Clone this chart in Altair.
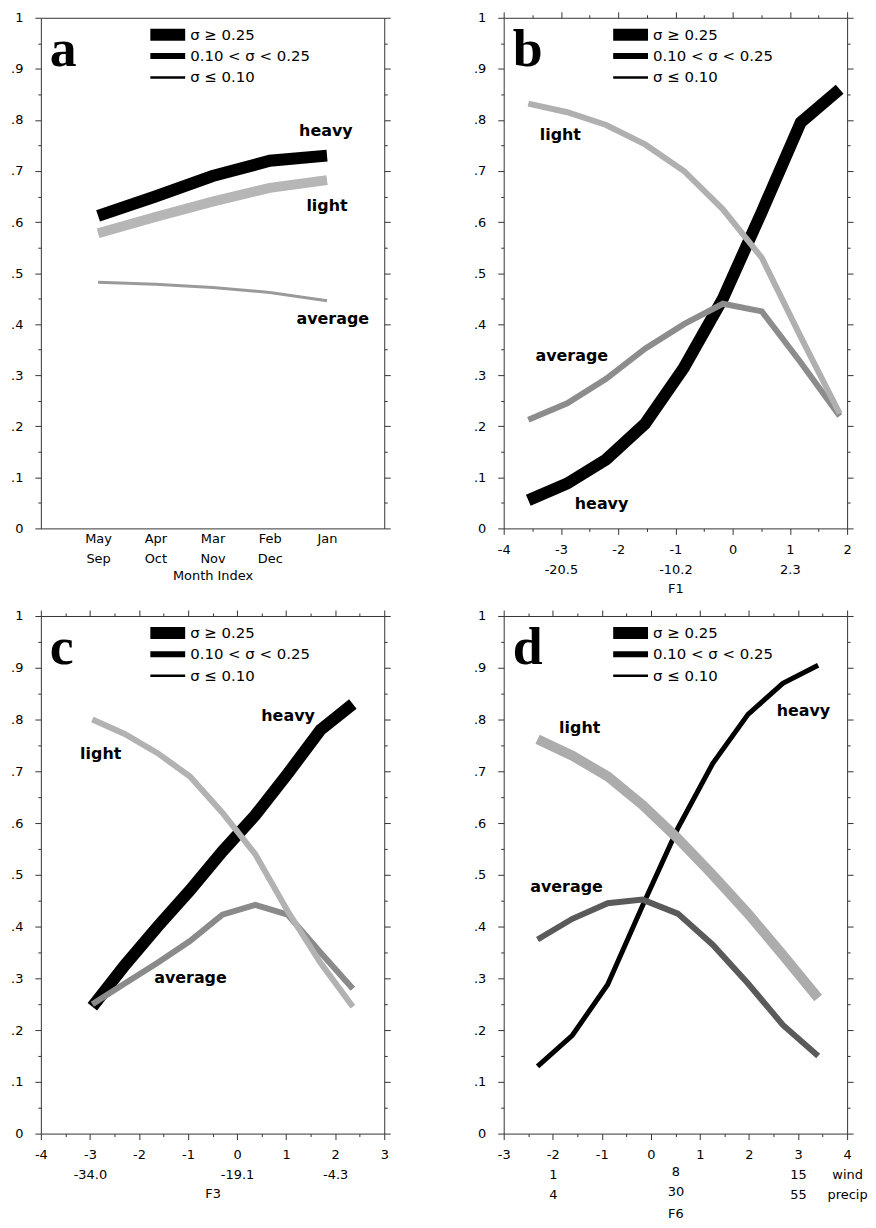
import altair as alt
import pandas as pd

FONT = "DejaVu Sans"

# ---------------- data ----------------
SERIES = ["heavy", "average", "light"]
LEGEND_LABELS = ["σ ≥ 0.25", "0.10 < σ < 0.25", "σ ≤ 0.10"]
Y_TICKS = [round(i * 0.05, 2) for i in range(21)]

# panel a
A_X = [1, 2, 3, 4, 5]
A_MONTHS_1 = ["May", "Apr", "Mar", "Feb", "Jan"]
A_MONTHS_2 = ["Sep", "Oct", "Nov", "Dec", ""]
A_HEAVY = [0.612, 0.650, 0.690, 0.720, 0.730]
A_AVERAGE = [0.482, 0.478, 0.472, 0.462, 0.446]
A_LIGHT = [0.578, 0.610, 0.640, 0.667, 0.682]

# panel b
B_X = [-3.57, -2.89, -2.21, -1.53, -0.85, -0.17, 0.51, 1.19, 1.87]
B_HEAVY = [0.055, 0.088, 0.135, 0.205, 0.315, 0.450, 0.620, 0.795, 0.860]
B_AVERAGE = [0.213, 0.245, 0.293, 0.352, 0.400, 0.440, 0.425, 0.325, 0.220]
B_LIGHT = [0.832, 0.815, 0.790, 0.752, 0.700, 0.625, 0.530, 0.375, 0.225]
B_SUB_VALUES = [-3, -1, 1]
B_SUB_LABELS = ["-20.5", "-10.2", "2.3"]

# panel c
C_X = [-2.95, -2.29, -1.62, -0.96, -0.30, 0.37, 1.03, 1.70, 2.36]
C_HEAVY = [0.245, 0.325, 0.400, 0.470, 0.545, 0.615, 0.695, 0.780, 0.830]
C_AVERAGE = [0.250, 0.290, 0.330, 0.372, 0.423, 0.442, 0.423, 0.350, 0.280]
C_LIGHT = [0.800, 0.772, 0.735, 0.690, 0.620, 0.540, 0.430, 0.330, 0.245]
C_SUB_VALUES = [-3, 0, 2]
C_SUB_LABELS = ["-34.0", "-19.1", "-4.3"]

# panel d
D_X = [-2.31, -1.60, -0.88, -0.17, 0.55, 1.26, 1.98, 2.69, 3.41]
D_HEAVY = [0.130, 0.190, 0.288, 0.440, 0.590, 0.715, 0.810, 0.870, 0.905]
D_AVERAGE = [0.375, 0.415, 0.445, 0.452, 0.425, 0.365, 0.290, 0.210, 0.150]
D_LIGHT = [0.762, 0.730, 0.690, 0.635, 0.570, 0.500, 0.425, 0.345, 0.262]
D_SUB_VALUES = [-2, 0.5, 3, 4]
D_WIND_LABELS = ["1", "8", "15", "wind"]
D_PRECIP_LABELS = ["4", "30", "55", "precip"]

# annotation anchors (data coordinates) for heavy, average, light
A_LABEL_X, A_LABEL_Y = [4.98, 5.10, 5.00], [0.778, 0.410, 0.632]
B_LABEL_X, B_LABEL_Y = [-2.29, -2.81, -3.01], [0.048, 0.338, 0.771]
C_LABEL_X, C_LABEL_Y = [1.04, -0.95, -2.78], [0.807, 0.300, 0.733]
D_LABEL_X, D_LABEL_Y = [3.11, -1.72, -1.45], [0.817, 0.476, 0.783]

# ---------------- styles ----------------
STYLE_A = {"heavy": ("#000000", 12), "average": ("#9a9a9a", 3), "light": ("#b6b6b6", 10)}
STYLE_B = {"heavy": ("#000000", 12), "average": ("#8c8c8c", 6), "light": ("#b0b0b0", 6)}
STYLE_C = {"heavy": ("#000000", 12), "average": ("#8a8a8a", 6), "light": ("#b2b2b2", 6)}
STYLE_D = {"heavy": ("#000000", 5), "average": ("#5a5a5a", 6), "light": ("#acacac", 10)}
LEGEND_WIDTHS = [12, 6, 2.5]

W = 345
H_TOP, H_BOTTOM = 513, 520
TICK_COLOR = "#333333"

Y_MINOR = "abs(datum.value*10 - round(datum.value*10)) > 0.25"
X_MINOR = "datum.value != round(datum.value)"


def cond_tick(test, minor, major):
    return {"condition": {"test": test, "value": minor}, "value": major}


def y_axis(orient, labels):
    expr = (Y_MINOR + " ? '' : (datum.value > 0.999 ? '1' : datum.value < 0.001 ? '0' : "
            "'.' + round(datum.value*10))")
    return alt.Axis(orient=orient, values=Y_TICKS, labels=labels, labelExpr=expr,
                    tickSize=cond_tick(Y_MINOR, 3, 6), tickColor=TICK_COLOR,
                    labelFont=FONT, labelFontSize=13, labelColor="black",
                    labelPadding=12, labelOverlap=False, labelFlush=False,
                    domain=False, grid=False, title=None)


def num_str(v):
    return ("-" if v < 0 else "") + str(abs(int(v))) if float(v).is_integer() else ""


def x_label_expr(sub_values, rows):
    expr = ("datum.value == round(datum.value) ? "
            "(datum.value < 0 ? '-' + abs(datum.value) : '' + datum.value) : ''")
    for i in reversed(range(len(sub_values))):
        v = sub_values[i]
        lines = [num_str(v)] + [r[i] for r in rows]
        arr = "[" + ",".join("'" + s + "'" for s in lines) + "]"
        expr = "datum.value == " + str(v) + " ? " + arr + " : (" + expr + ")"
    return expr


def x_axis_bottom(ticks, sub_values, rows, title):
    return alt.Axis(orient="bottom", values=ticks, labelExpr=x_label_expr(sub_values, rows),
                    tickSize=cond_tick(X_MINOR, 3, 6), tickColor=TICK_COLOR,
                    labelFont=FONT, labelFontSize=13, labelColor="black",
                    labelPadding=9, labelLineHeight=20, labelOverlap=False, labelFlush=False,
                    domain=False, grid=False, title=title, titleFont=FONT,
                    titleFontSize=13, titleFontWeight="normal", titlePadding=6)


def x_axis_top(ticks):
    return alt.Axis(orient="top", values=ticks, labels=False,
                    tickSize=cond_tick(X_MINOR, 3, 6), tickColor=TICK_COLOR,
                    domain=False, grid=False, title=None)


def panel(letter, xs, series_vals, style, x_domain, xb, xt, lab_x, lab_y, height):
    layers = []
    xscale = alt.Scale(domain=x_domain, nice=False, zero=False)
    yscale = alt.Scale(domain=[0, 1], nice=False, zero=False)
    for i, name in enumerate(SERIES):
        df = pd.DataFrame({"x": xs, "y": series_vals[i]})
        color, width = style[name]
        if i == 0:
            xa, ya = xb, y_axis("left", True)
        elif i == 1:
            xa, ya = xt, y_axis("right", False)
        else:
            xa, ya = None, None
        layers.append(
            alt.Chart(df).mark_line(color=color, strokeWidth=width, strokeCap="butt",
                                    strokeJoin="miter").encode(
                x=alt.X("x:Q", scale=xscale, axis=xa),
                y=alt.Y("y:Q", scale=yscale, axis=ya)))
    lab_df = pd.DataFrame({"x": lab_x, "y": lab_y, "t": SERIES})
    layers.append(
        alt.Chart(lab_df).mark_text(font=FONT, fontSize=16, fontWeight="bold",
                                    color="black", align="center", baseline="middle").encode(
            x=alt.X("x:Q", scale=xscale, axis=None),
            y=alt.Y("y:Q", scale=yscale, axis=None),
            text="t:N"))
    for i, lab in enumerate(LEGEND_LABELS):
        ypix = 17 + 21.5 * i
        layers.append(
            alt.Chart(pd.DataFrame({"t": [lab]})).mark_rule(color="black",
                                                            strokeWidth=LEGEND_WIDTHS[i]).encode(
                x=alt.value(110), x2=alt.value(145), y=alt.value(ypix)))
        layers.append(
            alt.Chart(pd.DataFrame({"t": [lab]})).mark_text(
                font=FONT, fontSize=15, color="black", align="left", baseline="middle").encode(
                x=alt.value(150), y=alt.value(ypix), text="t:N"))
    layers.append(
        alt.Chart(pd.DataFrame({"t": [letter]})).mark_text(
            font="Liberation Serif", fontSize=54, fontWeight="bold", color="black",
            align="left", baseline="alphabetic").encode(
            x=alt.value(9), y=alt.value(48), text="t:N"))
    return alt.layer(*layers).resolve_axis(x="independent", y="independent").properties(
        width=W, height=height)


def halves(lo, hi):
    return [lo + 0.5 * i for i in range(int((hi - lo) * 2) + 1)]


# panel a axes
a_expr = "''"
for i in reversed(range(len(A_X))):
    lines = [A_MONTHS_1[i]] + ([A_MONTHS_2[i]] if A_MONTHS_2[i] else [])
    arr = "[" + ",".join("'" + s + "'" for s in lines) + "]"
    a_expr = "datum.value == " + str(A_X[i]) + " ? " + arr + " : (" + a_expr + ")"
a_bottom = alt.Axis(orient="bottom", values=A_X, labelExpr=a_expr, ticks=False, tickSize=0,
                    labelFont=FONT, labelFontSize=13, labelColor="black", labelPadding=4,
                    labelLineHeight=20, labelOverlap=False, labelFlush=False, domain=False,
                    grid=False, title="Month Index", titleFont=FONT, titleFontSize=13,
                    titleFontWeight="normal", titlePadding=4)
a_top = alt.Axis(orient="top", values=A_X, labels=False, ticks=False, domain=False,
                 grid=False, title=None)

pa = panel("a", A_X, [A_HEAVY, A_AVERAGE, A_LIGHT], STYLE_A, [0, 6], a_bottom, a_top,
           A_LABEL_X, A_LABEL_Y, H_TOP)
pb = panel("b", B_X, [B_HEAVY, B_AVERAGE, B_LIGHT], STYLE_B, [-4, 2],
           x_axis_bottom(halves(-4, 2), B_SUB_VALUES, [B_SUB_LABELS], "F1"),
           x_axis_top(halves(-4, 2)), B_LABEL_X, B_LABEL_Y, H_TOP)
pc = panel("c", C_X, [C_HEAVY, C_AVERAGE, C_LIGHT], STYLE_C, [-4, 3],
           x_axis_bottom(halves(-4, 3), C_SUB_VALUES, [C_SUB_LABELS], "F3"),
           x_axis_top(halves(-4, 3)), C_LABEL_X, C_LABEL_Y, H_BOTTOM)
pd_ = panel("d", D_X, [D_HEAVY, D_AVERAGE, D_LIGHT], STYLE_D, [-3, 4],
            x_axis_bottom(halves(-3, 4), D_SUB_VALUES, [D_WIND_LABELS, D_PRECIP_LABELS], "F6"),
            x_axis_top(halves(-3, 4)), D_LABEL_X, D_LABEL_Y, H_BOTTOM)

top = alt.hconcat(pa, pb, spacing=82)
bottom = alt.hconcat(pc, pd_, spacing=82)
chart = alt.vconcat(top, bottom, spacing=13).properties(
    padding={"left": 2, "top": 0, "right": 0, "bottom": 0}
).configure_view(stroke="#333333", strokeWidth=1)

chart.save("out.html", embed_options={"renderer": "svg", "actions": False})
